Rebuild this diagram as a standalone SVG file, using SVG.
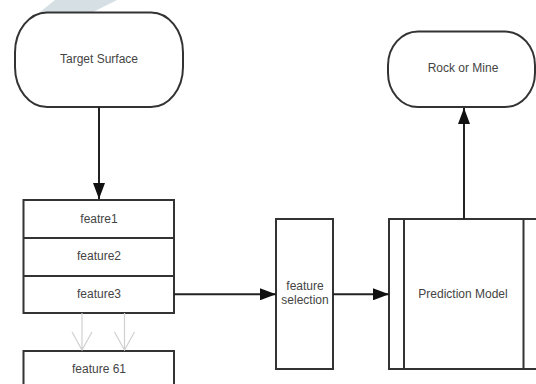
<svg xmlns="http://www.w3.org/2000/svg" width="536" height="384" viewBox="0 0 536 384">
<defs>
<style>
.box{fill:#fff;stroke:#333;stroke-width:2}
.ln{fill:none;stroke:#222;stroke-width:2}
.gl{fill:none;stroke:#d0d0d0;stroke-width:1.2}
.t{font-family:"Liberation Sans",Arial,sans-serif;font-size:12px;fill:#444;text-anchor:middle}
</style>
<marker id="ah" viewBox="0 0 16 12" refX="16" refY="6" markerWidth="16" markerHeight="12" markerUnits="userSpaceOnUse" orient="auto">
<path d="M0,0 L16,6 L0,12 Z" fill="#111"/>
</marker>
</defs>
<rect width="536" height="384" fill="#fff"/>
<polygon points="55,0 117,0 93,12 40,12" fill="#d6e0e4"/>
<g id="target-surface">
<rect class="box" x="15" y="12.5" width="168" height="94.5" rx="32" ry="40"/>
<text class="t" x="99" y="63">Target Surface</text>
</g>
<g id="rock-or-mine">
<rect class="box" x="388" y="31.5" width="147" height="75.5" rx="30" ry="34"/>
<text class="t" x="463" y="72">Rock or Mine</text>
</g>
<g id="features">
<rect class="box" x="23.5" y="200" width="150.5" height="113"/>
<line class="box" x1="23.5" y1="238" x2="174" y2="238"/>
<line class="box" x1="23.5" y1="276" x2="174" y2="276"/>
<text class="t" x="99" y="223">featre1</text>
<text class="t" x="99" y="260">feature2</text>
<text class="t" x="99" y="298">feature3</text>
</g>
<g id="feature-61">
<rect class="box" x="23.5" y="351" width="150.5" height="40"/>
<text class="t" x="99" y="373">feature 61</text>
</g>
<g id="feature-selection">
<rect class="box" x="276" y="219" width="57" height="150"/>
<text class="t" x="305" y="290">feature</text>
<text class="t" x="305" y="304">selection</text>
</g>
<g id="prediction-model">
<rect class="box" x="389" y="219" width="150" height="150"/>
<line class="box" x1="404" y1="219" x2="404" y2="369"/>
<line class="box" x1="523.5" y1="219" x2="523.5" y2="369"/>
<text class="t" x="463" y="298">Prediction Model</text>
</g>
<g id="connectors">
<line class="ln" x1="99" y1="107" x2="99" y2="199" marker-end="url(#ah)"/>
<line class="ln" x1="174" y1="294.3" x2="276" y2="294.3" marker-end="url(#ah)"/>
<line class="ln" x1="333" y1="294.3" x2="389" y2="294.3" marker-end="url(#ah)"/>
<line class="ln" x1="464" y1="219" x2="464" y2="108" marker-end="url(#ah)"/>
<path class="gl" d="M82,313 V350 M72,332 L82,350 L92,332"/>
<path class="gl" d="M124.5,313 V350 M114.5,332 L124.5,350 L134.5,332"/>
</g>
</svg>
